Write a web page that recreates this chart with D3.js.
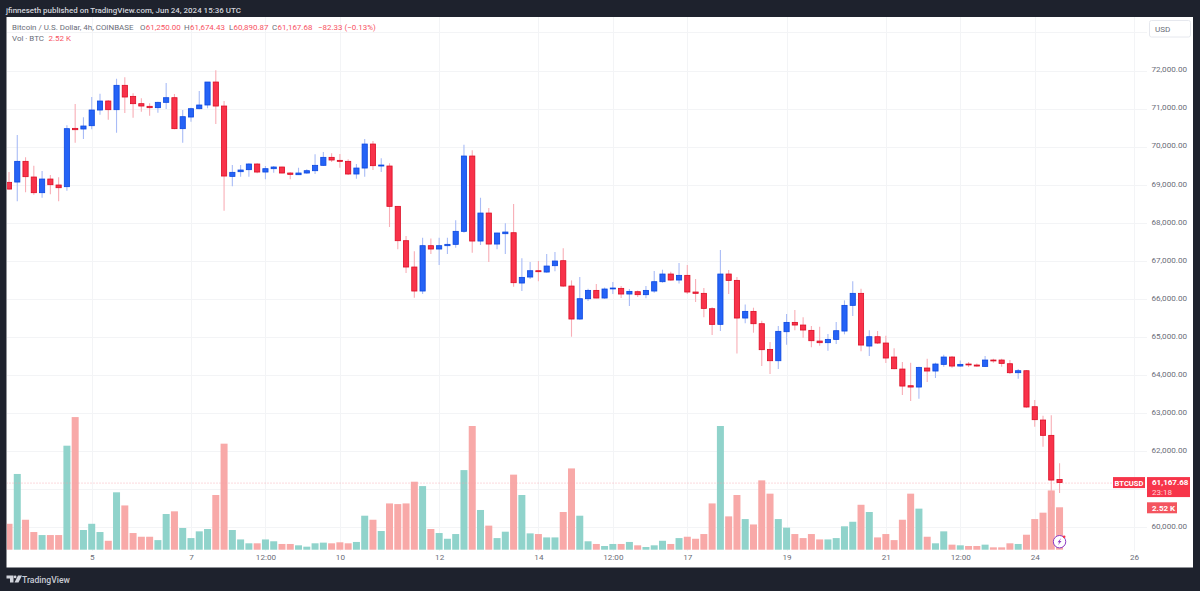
<!DOCTYPE html>
<html>
<head>
<meta charset="utf-8">
<title>BTCUSD 4h</title>
<script src="https://cdn.jsdelivr.net/npm/d3@7"></script>
<style>
html,body{margin:0;padding:0;background:#1e222d;}
svg{display:block;font-family:Roboto,"Noto Sans",sans-serif;}
.axis path,.axis line{display:none;}
.axis text{fill:#6a6d78;font-size:8.1px;font-family:Roboto,"Noto Sans",sans-serif;}
</style>
</head>
<body>
<svg id="chart" width="1200" height="591"></svg>
<script>
// 4h BTC/USD candles, COINBASE, newest last
const open = [69060,69068,69612,69200,68788,69147,68990,68946,70479,70462,70549,70961,71198,70970,71610,71320,71128,71058,71023,71163,71285,70471,70777,70996,71093,71697,71066,69217,69340,69393,69542,69331,69419,69463,69305,69261,69305,69366,69507,69717,69638,69612,69279,69436,70067,69489,69489,68429,67526,66834,66203,67395,67307,67395,67430,67772,69752,67517,68253,67438,67710,67736,66413,66571,66737,66702,66869,67000,66334,65467,66001,66220,66019,66264,66273,66124,66185,66107,66203,66448,66650,66492,66615,66177,66142,65738,65327,66650,66483,65493,65668,65344,64669,64371,65134,65379,65309,65169,64888,64845,64932,65151,65826,66142,64757,65002,64836,64468,64152,63714,63679,64179,64100,64275,64468,64231,64284,64258,64222,64389,64389,64292,64056,64108,63162,62812,62409,61250];
const high = [69331,70304,69717,69498,69358,69252,69191,70558,71119,70768,71303,71391,71224,71785,71820,71399,71268,71136,71180,71671,71382,70961,71023,71461,71697,72004,71198,69515,69515,69559,69559,69489,69489,69471,69323,69445,69401,69796,69857,69822,69805,69664,69542,70199,70146,69691,69559,68429,67649,67246,67605,67587,67605,67605,68061,70050,69901,68657,68385,67736,67982,68490,67062,66965,66992,67176,67228,67325,66483,66571,66264,66387,66299,66440,66334,66256,66220,66334,66729,66764,66711,66939,66886,66518,66282,65774,67281,66755,66571,65852,65765,65423,64862,65283,65598,65703,65511,65283,65265,65072,65388,65958,66457,66264,65169,65151,65029,64696,64336,64319,64214,64424,64319,64529,64494,64380,64336,64301,64494,64424,64424,64389,64152,64126,63337,62926,62935,61674.43];
const low = [68858,68560,68797,68735,68657,68744,68560,68841,70102,70199,70453,70839,70707,70365,70882,70760,70917,70812,70891,70987,70453,70102,70655,70979,71005,70593,68315,68954,69209,69209,69296,69139,69314,69296,69139,69252,69287,69279,69489,69594,69445,69252,69156,69209,69384,69331,67885,67298,66676,66028,66124,67176,66886,67176,67342,67736,67211,67412,66965,67298,67176,66317,66203,66518,66457,66685,66720,66308,65002,65449,65940,66010,66001,66124,66019,65809,66045,66010,66159,66422,66475,66404,66124,65914,65511,65046,65151,66124,64564,65353,65108,64231,64021,64152,64792,65169,64976,64722,64766,64634,64810,65064,65546,64617,64494,64810,64310,64144,63469,63311,63373,63811,63916,64214,64187,64214,64205,64214,64214,64319,64214,64021,63898,63136,62636,62111,60533,60890.87];
const close = [68884,69612,69209,68788,69147,68998,68919,70471,70444,70541,70961,71198,70970,71610,71303,71128,71066,71023,71163,71285,70471,70786,70996,71093,71697,71066,69226,69323,69384,69542,69331,69419,69463,69305,69270,69305,69366,69507,69717,69647,69612,69279,69436,70067,69498,69515,68429,67526,66834,66203,67395,67307,67395,67430,67772,69752,67517,68253,67438,67728,67754,66422,66562,66737,66711,66860,66992,66334,65467,66001,66220,66019,66256,66282,66124,66194,66107,66220,66448,66650,66492,66615,66177,66142,65747,65327,66650,66483,65493,65668,65344,64661,64371,65143,65379,65309,65178,64897,64845,64932,65160,65826,66142,64783,65002,64836,64442,64161,63705,63679,64196,64100,64284,64468,64231,64275,64266,64231,64389,64371,64301,64056,64108,63154,62821,62409,61234,61167.68];
const volumeK = [1.54,4.50,1.78,1.05,0.87,0.87,0.87,6.18,7.88,1.17,1.54,1.05,0.53,3.41,2.63,0.99,0.77,0.77,0.57,2.12,2.28,1.29,0.69,1.09,1.23,3.25,6.30,1.17,0.61,0.38,0.38,0.61,0.50,0.34,0.34,0.26,0.18,0.38,0.42,0.38,0.44,0.38,0.46,2.02,1.78,1.11,2.75,2.71,2.75,4.04,3.78,1.23,0.99,0.65,0.93,4.73,7.35,2.36,1.43,0.69,1.07,4.46,3.25,0.97,0.93,0.73,0.73,2.24,4.83,2.02,0.50,0.34,0.22,0.34,0.34,0.46,0.26,0.16,0.26,0.53,0.34,0.69,0.77,0.65,0.93,2.75,7.35,1.98,3.25,1.82,1.50,4.12,3.33,1.82,1.31,0.93,0.69,0.93,0.61,0.61,0.69,1.39,1.66,2.67,2.24,0.73,0.93,0.57,1.78,3.33,2.44,0.77,0.38,1.09,0.30,0.26,0.22,0.22,0.30,0.14,0.14,0.38,0.34,0.89,1.82,2.20,3.52,2.52];

// Time axis labels, keyed by bar number
const timeTickBars = [10,22,31,40,52,64,73,82,94,106,115,124,136];
const timeTickLabels = ["5","7","12:00","10","12","14","12:00","17","19","21","12:00","24","26"];
// 61,000 is covered by the last-price tag, so it only gets a gridline
const priceTicks = [72000,71000,70000,69000,68000,67000,66000,65000,64000,63000,62000,60000];
const priceGridOnly = [73000,61000];

const last = {open:61250, high:61674.43, low:60890.87, close:61167.68, change:-82.33, pct:-0.13, vol:2.52};

const C = {
  frame:"#1e222d", panel:"#ffffff", grid:"#f3f4f6", text:"#6a6d78",
  upBody:"#2563f6", upEdge:"#0b47e0", upWick:"#a9bcf6",
  downBody:"#f8324a", downEdge:"#dc0d24", downWick:"#f8aeb6",
  volUp:"#90d3cb", volDown:"#f8a9a8", tag:"#f7354a", tagVol:"#f4555f", legendRed:"#f7525f"
};
const panel = {left:6.5, top:17, right:1193, bottom:567.5};

const svg = d3.select("#chart");
svg.append("rect").attr("width",1200).attr("height",591).attr("fill",C.frame);
svg.append("rect").attr("x",panel.left).attr("y",panel.top)
   .attr("width",panel.right-panel.left).attr("height",panel.bottom-panel.top).attr("fill",C.panel);

const defs = svg.append("defs");
defs.append("clipPath").attr("id","plot").append("rect")
    .attr("x",panel.left+0.5).attr("y",panel.top).attr("width",panel.right-panel.left).attr("height",panel.bottom-panel.top);

const x = d3.scaleLinear().domain([0,136]).range([9,1134]);
const y = d3.scaleLinear().domain([72000,60000]).range([70.5,527]);
const vol = d3.scaleLinear().domain([0,1]).range([549.7,532.87]);

const bars = d3.range(close.length).map(i=>({i,o:open[i],h:high[i],l:low[i],c:close[i],v:volumeK[i],up:close[i]>=open[i]}));

// Gridlines
const grid = svg.append("g").attr("shape-rendering","crispEdges").attr("stroke",C.grid).attr("stroke-width",1);
grid.selectAll("line.v").data(timeTickBars).join("line").attr("class","v")
    .attr("x1",d=>Math.round(x(d))+0.5).attr("x2",d=>Math.round(x(d))+0.5)
    .attr("y1",panel.top).attr("y2",551);
grid.selectAll("line.h").data(priceTicks.concat(priceGridOnly)).join("line").attr("class","h")
    .attr("y1",d=>Math.round(y(d))+0.5).attr("y2",d=>Math.round(y(d))+0.5)
    .attr("x1",panel.left).attr("x2",1147);

const plot = svg.append("g").attr("clip-path","url(#plot)");

// Volume pane sits under the candles
plot.append("g").selectAll("rect").data(bars).join("rect")
    .attr("x",d=>x(d.i)-3.5).attr("width",7)
    .attr("y",d=>vol(d.v)).attr("height",d=>vol(0)-vol(d.v))
    .attr("fill",d=>d.up?C.volUp:C.volDown);

// Last-price line
plot.append("line").attr("x1",panel.left).attr("x2",1113)
    .attr("y1",y(last.close)+0.5).attr("y2",y(last.close)+0.5)
    .attr("stroke","#f7a0a8").attr("stroke-width",0.8).attr("stroke-dasharray","1 2");

// Candles
plot.append("g").selectAll("line").data(bars).join("line")
    .attr("x1",d=>x(d.i)).attr("x2",d=>x(d.i))
    .attr("y1",d=>y(d.h)).attr("y2",d=>y(d.l))
    .attr("stroke",d=>d.up?C.upWick:C.downWick).attr("stroke-width",1.1);
plot.append("g").selectAll("rect").data(bars).join("rect")
    .attr("x",d=>x(d.i)-2.6).attr("width",5.2)
    .attr("y",d=>y(Math.max(d.o,d.c)))
    .attr("height",d=>Math.max(0.9,Math.abs(y(d.o)-y(d.c))))
    .attr("fill",d=>d.up?C.upBody:C.downBody)
    .attr("stroke",d=>d.up?C.upEdge:C.downEdge).attr("stroke-width",0.8);

// Axes
svg.append("g").attr("class","axis").attr("transform","translate(0,552)")
   .call(d3.axisBottom(x).tickValues(timeTickBars).tickSize(0).tickPadding(2)
     .tickFormat(d=>timeTickLabels[timeTickBars.indexOf(d)]));
svg.append("g").attr("class","axis").attr("transform","translate(1187,-1.2)")
   .call(d3.axisLeft(y).tickValues(priceTicks).tickSize(0).tickPadding(0)
     .tickFormat(d3.format(",.2f")));

// Currency box
svg.append("rect").attr("x",1149.5).attr("y",20.5).attr("width",41).attr("height",16.5).attr("rx",2)
   .attr("fill","#fff").attr("stroke","#e6e8ee");
svg.append("text").attr("x",1155).attr("y",32).attr("font-size",8.1).attr("fill",C.text).text("USD");

// Title strip and legend
svg.append("text").attr("x",6).attr("y",13).attr("font-size",7.95).attr("font-weight",500).attr("fill","#d1d4dc")
   .text("jfinneseth published on TradingView.com, Jun 24, 2024 15:36 UTC");

const fmt = d3.format(",.2f");
const legendY = 30;
const legend = svg.append("g").attr("font-size",7.95);
legend.append("text").attr("x",12).attr("y",legendY).attr("fill",C.text).text("Bitcoin / U.S. Dollar, 4h, COINBASE");
const legendItems = [
  ["O",fmt(last.open),140],["H",fmt(last.high),184],["L",fmt(last.low),229],["C",fmt(last.close),272]
];
legendItems.forEach(([k,v,px])=>{
  const t = legend.append("text").attr("x",px).attr("y",legendY);
  t.append("tspan").attr("fill",C.text).text(k);
  t.append("tspan").attr("fill",C.legendRed).attr("dx",0.3).text(v);
});
legend.append("text").attr("x",318).attr("y",legendY).attr("fill",C.legendRed)
      .text(`\u2212${Math.abs(last.change)} (\u2212${Math.abs(last.pct)}%)`);
legend.append("text").attr("x",12).attr("y",41).attr("fill",C.text).text("Vol \u00b7 BTC");
legend.append("text").attr("x",48.5).attr("y",41).attr("fill",C.legendRed).text(`${last.vol} K`);

// Last-value tags on the price scale
const tagY = y(last.close);
svg.append("rect").attr("x",1113).attr("y",tagY-5.5).attr("width",32).attr("height",11).attr("fill",C.tag);
svg.append("text").attr("x",1129).attr("y",tagY+3).attr("text-anchor","middle").attr("font-size",7.6).attr("font-weight",700).attr("fill","#fff").text("BTCUSD");
svg.append("rect").attr("x",1147).attr("y",tagY-5.5).attr("width",43).attr("height",20).attr("fill",C.tag);
svg.append("text").attr("x",1152).attr("y",tagY+2.6).attr("font-size",8).attr("font-weight",700).attr("fill","#fff").text(fmt(last.close));
svg.append("text").attr("x",1152).attr("y",tagY+12).attr("font-size",8).attr("fill","#ffd5d9").text("23:18");
svg.append("rect").attr("x",1147).attr("y",vol(last.vol)-5).attr("width",30).attr("height",11).attr("fill",C.tagVol);
svg.append("text").attr("x",1152).attr("y",vol(last.vol)+3.5).attr("font-size",8).attr("font-weight",700).attr("fill","#fff").text(`${last.vol} K`);

// Lightning badge beside the latest bar
const badge = svg.append("g").attr("transform",`translate(${x(close.length-1)},541.7)`);
badge.append("circle").attr("r",6.2).attr("fill","#fff").attr("stroke","#8e3cc4").attr("stroke-width",1);
badge.append("path").attr("d","M1.6,-3.6 L-2,0.6 L-0.2,0.6 L-1.6,3.6 L2,-0.8 L0.2,-0.8 Z").attr("fill","#8e3cc4");
badge.append("circle").attr("cx",4.6).attr("cy",-5).attr("r",1.3).attr("fill","#f7354a");

// Footer wordmark
const logo = svg.append("g").attr("transform","translate(6.5,575.5)").attr("fill","#d1d4dc");
logo.append("path").attr("d","M0,0 H7 V7 H3.5 V3 H0 Z");
logo.append("circle").attr("cx",8.6).attr("cy",1.4).attr("r",1.4);
logo.append("path").attr("d","M11.5,0 H15.5 L12,7 H8 Z");
svg.append("text").attr("x",22).attr("y",583).attr("font-size",8.6).attr("font-weight",500).attr("fill","#c9ccd4").text("TradingView");
</script>
</body>
</html>
